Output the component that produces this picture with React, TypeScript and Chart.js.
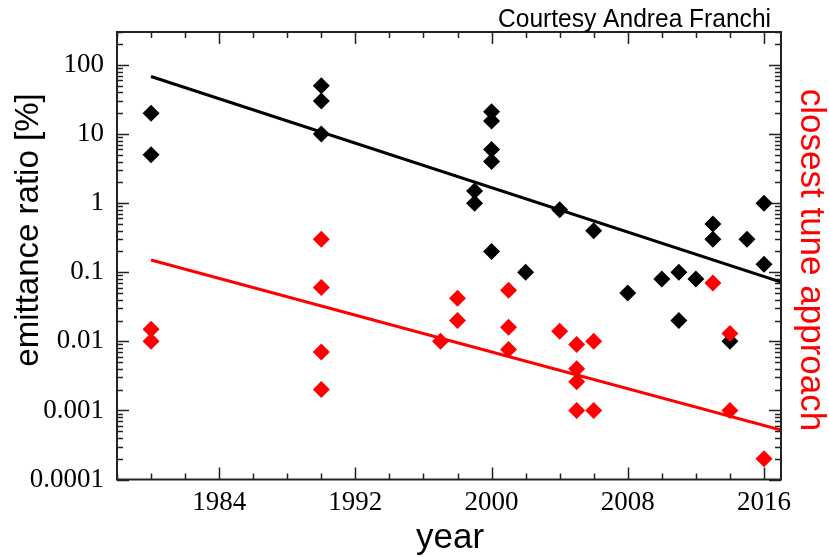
import { useEffect, useRef } from "react";
import { Chart, registerables } from "chart.js";

Chart.register(...registerables);

// Measured emittance ratio [%] per year (black diamonds)
const emittanceYears = [1980, 1980, 1990, 1990, 1990, 1999, 1999, 2000, 2000, 2000, 2000, 2000, 2002, 2004, 2006, 2008, 2010, 2011, 2011, 2012, 2013, 2013, 2014, 2015, 2016, 2016];
const emittanceValues = [20, 5, 50, 30, 10, 1.5, 1, 21, 15.5, 6, 4, 0.2, 0.1, 0.8, 0.4, 0.05, 0.08, 0.1, 0.02, 0.08, 0.5, 0.3, 0.01, 0.3, 1, 0.13];

// Closest tune approach per year (red diamonds)
const tuneYears = [1980, 1980, 1990, 1990, 1990, 1990, 1997, 1998, 1998, 2001, 2001, 2001, 2004, 2005, 2005, 2005, 2005, 2006, 2006, 2013, 2014, 2014, 2016];
const tuneValues = [0.015, 0.01, 0.3, 0.06, 0.007, 0.002, 0.01, 0.042, 0.02, 0.055, 0.016, 0.0076, 0.014, 0.009, 0.004, 0.0026, 0.001, 0.01, 0.001, 0.07, 0.013, 0.001, 0.0002];

// Exponential trend lines (end points)
const fitYears = [1980, 2017];
const emittanceFit = [68, 0.072];
const tuneFit = [0.15, 0.00052];

// Axes
const yearMin = 1978;
const yearMax = 2017;
const yearTicks = [1984, 1992, 2000, 2008, 2016];
const ratioMin = 0.0001;
const ratioMax = 300;
const ratioTicks = [0.0001, 0.001, 0.01, 0.1, 1, 10, 100];
const ratioTickLabels = ["0.0001", "0.001", "0.01", "0.1", "1", "10", "100"];

const BLACK = "#000000";
const RED = "#ff0000";
const SANS = "'Liberation Sans', Arial, Helvetica, sans-serif";
const SERIF = "'Liberation Serif', 'Times New Roman', serif";

const points = (xs: number[], ys: number[]) => xs.map((x, i) => ({ x, y: ys[i] }));

// Inward ticks on all four sides, the frame, and the titles.
const framePlugin = {
  id: "frameTicks",
  beforeDatasetsDraw(chart: any) {
    const { ctx, chartArea: a, scales } = chart;
    const xs = scales.x;
    const ys = scales.y;
    ctx.save();
    ctx.strokeStyle = "#222";
    ctx.lineWidth = 1.5;
    ctx.beginPath();
    for (let yr = Math.ceil(xs.min / 2) * 2; yr <= xs.max; yr += 2) {
      const px = Math.round(xs.getPixelForValue(yr)) + 0.5;
      const len = yearTicks.includes(yr) ? 12 : 6;
      ctx.moveTo(px, a.bottom);
      ctx.lineTo(px, a.bottom - len);
      ctx.moveTo(px, a.top);
      ctx.lineTo(px, a.top + len);
    }
    const dMin = Math.floor(Math.log10(ys.min));
    const dMax = Math.ceil(Math.log10(ys.max));
    for (let d = dMin; d <= dMax; d++) {
      for (let k = 1; k <= 9; k++) {
        const v = k * Math.pow(10, d);
        if (v < ys.min * 0.999 || v > ys.max * 1.001) continue;
        const py = Math.round(ys.getPixelForValue(v)) + 0.5;
        const len = k === 1 ? 12 : 6;
        ctx.moveTo(a.left, py);
        ctx.lineTo(a.left + len, py);
        ctx.moveTo(a.right, py);
        ctx.lineTo(a.right - len, py);
      }
    }
    ctx.stroke();
    ctx.restore();
  },
  afterDraw(chart: any) {
    const { ctx, chartArea: a } = chart;
    ctx.save();
    ctx.strokeStyle = "#222";
    ctx.lineWidth = 2;
    ctx.strokeRect(a.left, a.top, a.right - a.left, a.bottom - a.top);

    ctx.fillStyle = BLACK;
    ctx.textBaseline = "alphabetic";

    // x title
    ctx.font = `35px ${SANS}`;
    ctx.textAlign = "center";
    ctx.fillText("year", (a.left + a.right) / 2 + 1, 548);

    // left title
    ctx.save();
    ctx.translate(38, 230);
    ctx.rotate(-Math.PI / 2);
    ctx.font = `33px ${SANS}`;
    ctx.textAlign = "center";
    ctx.fillText("emittance ratio [%]", 0, 0);
    ctx.restore();

    // right title
    ctx.save();
    ctx.translate(801, 260);
    ctx.rotate(Math.PI / 2);
    ctx.font = `35px ${SANS}`;
    ctx.fillStyle = RED;
    ctx.textAlign = "center";
    ctx.fillText("closest tune approach", 0, 0);
    ctx.restore();

    // credit line
    ctx.font = `25px ${SANS}`;
    ctx.textAlign = "right";
    ctx.fillText("Courtesy Andrea Franchi", a.right - 10, 27, 273);
    ctx.restore();
  },
};

export default function App() {
  const canvasRef = useRef<HTMLCanvasElement | null>(null);

  useEffect(() => {
    const canvas = canvasRef.current;
    if (!canvas) return;
    const chart = new Chart(canvas, {
      type: "scatter",
      data: {
        datasets: [
          {
            label: "closest tune approach",
            data: points(tuneYears, tuneValues),
            pointStyle: "rectRot",
            pointRadius: 8.5,
            backgroundColor: RED,
            borderWidth: 0,
            showLine: false,
            order: 0,
          },
          {
            label: "emittance ratio",
            data: points(emittanceYears, emittanceValues),
            pointStyle: "rectRot",
            pointRadius: 8.5,
            backgroundColor: BLACK,
            borderWidth: 0,
            showLine: false,
            order: 1,
          },
          {
            label: "emittance trend",
            data: points(fitYears, emittanceFit),
            showLine: true,
            pointRadius: 0,
            borderColor: BLACK,
            borderWidth: 3,
            order: 2,
          },
          {
            label: "tune trend",
            data: points(fitYears, tuneFit),
            showLine: true,
            pointRadius: 0,
            borderColor: RED,
            borderWidth: 3,
            order: 3,
          },
        ],
      },
      options: {
        animation: false,
        responsive: true,
        maintainAspectRatio: false,
        events: [],
        layout: { padding: { top: 32, right: 48, left: 0, bottom: 0 } },
        plugins: {
          legend: { display: false },
          tooltip: { enabled: false },
          title: { display: false },
        },
        scales: {
          x: {
            type: "linear",
            position: "bottom",
            min: yearMin,
            max: yearMax,
            grid: { display: false, drawTicks: false },
            border: { display: false },
            afterBuildTicks: (scale: any) => {
              scale.ticks = yearTicks.map((v) => ({ value: v }));
            },
            afterFit: (scale: any) => {
              scale.height = 77.5;
            },
            ticks: {
              padding: 7,
              color: BLACK,
              maxRotation: 0,
              autoSkip: false,
              font: { family: SERIF, size: 27 },
              callback: (v: any) => String(v),
            },
          },
          y: {
            type: "logarithmic",
            position: "left",
            min: ratioMin,
            max: ratioMax,
            grid: { display: false, drawTicks: false },
            border: { display: false },
            afterBuildTicks: (scale: any) => {
              scale.ticks = ratioTicks.map((v) => ({ value: v }));
            },
            afterFit: (scale: any) => {
              scale.width = 117;
            },
            ticks: {
              padding: 13,
              color: BLACK,
              autoSkip: false,
              font: { family: SERIF, size: 27 },
              callback: (_v: any, i: number) => ratioTickLabels[i],
            },
          },
        },
      },
      plugins: [framePlugin],
    });
    return () => chart.destroy();
  }, []);

  return (
    <div style={{ position: "fixed", left: 0, top: 0, width: 829, height: 557, background: "#fff" }}>
      <canvas ref={canvasRef} />
    </div>
  );
}
